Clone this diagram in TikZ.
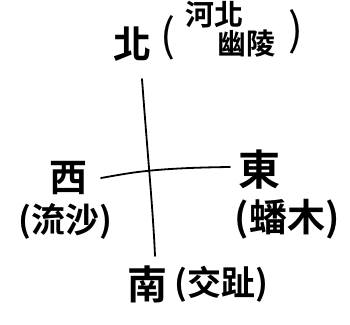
\documentclass[tikz,border=0pt]{standalone}
\usepackage{fontspec}
\newfontfamily\cjk{Noto Sans CJK TC}[BoldFont={Noto Sans CJK TC Bold}]
\begin{document}
\begin{tikzpicture}[x=1pt,y=-1pt,
  main/.style={inner sep=0pt,font=\cjk\bfseries\fontsize{38}{38}\selectfont},
  sub/.style={inner sep=0pt,font=\cjk\bfseries\fontsize{34}{34}\selectfont},
  par/.style={inner sep=0pt,font=\cjk\fontsize{44}{44}\selectfont},
  axis/.style={line width=1.8pt,line cap=round}]
\useasboundingbox (0,0) rectangle (350,324);
% axes
\coordinate (top) at (142,79);
\coordinate (bot) at (155,256);
\coordinate (left) at (101,178);
\coordinate (right) at (230,167);
\draw[axis] (top) .. controls (148,160) and (153,210) .. (bot);
\draw[axis] (left) .. controls (130,173) and (150,168) .. (right);
% north
\node[main] (n) at (132,44) {北};
\node[par] (nl) at (168,38) {(};
\node[sub,font=\cjk\bfseries\fontsize{29}{29}\selectfont] (n1) at (214,15) {河北};
\node[sub,font=\cjk\bfseries\fontsize{29}{29}\selectfont] (n2) at (246,44) {幽陵};
\node[par] (nr) at (296,32) {)};
% west
\node[main] (w) at (68,178) {西};
\node[sub] (w1) at (65,221) {(流沙)};
% east
\node[main,font=\cjk\bfseries\fontsize{42}{42}\selectfont] (e) at (259,170) {東};
\node[sub,font=\cjk\bfseries\fontsize{38}{38}\selectfont] (e1) at (287,219) {(蟠木)};
% south
\node[main,font=\cjk\bfseries\fontsize{40}{40}\selectfont] (s) at (147,284) {南};
\node[sub] (s1) at (221,284) {(交趾)};
\end{tikzpicture}
\end{document}
